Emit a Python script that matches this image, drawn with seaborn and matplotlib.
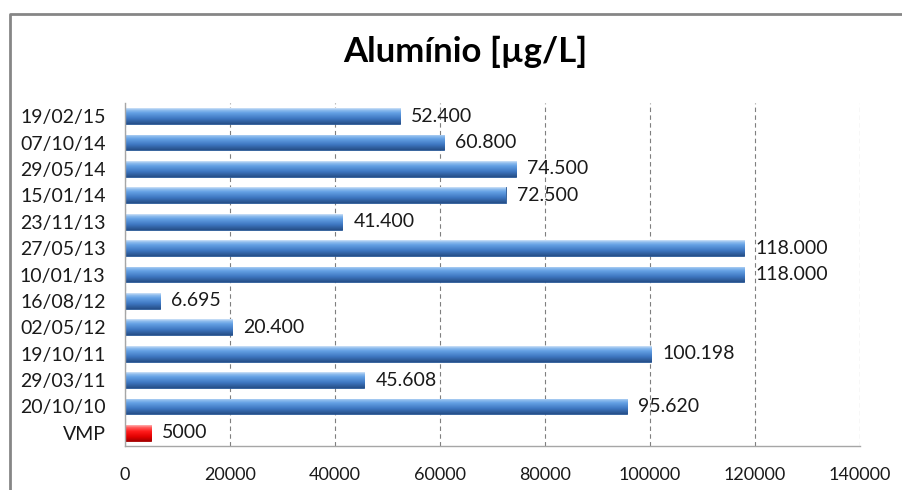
import matplotlib
matplotlib.use("Agg")
import numpy as np
import pandas as pd
import matplotlib.pyplot as plt
import seaborn as sns
from matplotlib.colors import LinearSegmentedColormap
from matplotlib.lines import Line2D

# data (top to bottom)
dates = ["19/02/15", "07/10/14", "29/05/14", "15/01/14", "23/11/13", "27/05/13",
         "10/01/13", "16/08/12", "02/05/12", "19/10/11", "29/03/11", "20/10/10", "VMP"]
values = [52400, 60800, 74500, 72500, 41400, 118000,
          118000, 6695, 20400, 100198, 45608, 95620, 5000]
value_labels = ["52.400", "60.800", "74.500", "72.500", "41.400", "118.000",
                "118.000", "6.695", "20.400", "100.198", "45.608", "95.620", "5000"]
x_ticks = [0, 20000, 40000, 60000, 80000, 100000, 120000, 140000]

blue_cmap = LinearSegmentedColormap.from_list(
    "blue_bar", [(0.0, "#cfe2f8"), (0.12, "#8fbdee"), (0.3, "#64a0e4"),
                 (0.65, "#3f78c2"), (1.0, "#264f88")])
red_cmap = LinearSegmentedColormap.from_list(
    "red_bar", [(0.0, "#ffb0b0"), (0.15, "#ff5a5a"), (0.4, "#ff1a1a"),
                (0.75, "#e00000"), (1.0, "#a80000")])


def main():
    df = pd.DataFrame({"data": dates, "valor": values})

    sns.set_style("white")
    plt.rcParams["font.family"] = ["Lato", "DejaVu Sans"]

    fig = plt.figure(figsize=(9.03, 4.9), dpi=100)
    ax = fig.add_axes([125 / 903, 1 - 446 / 490, 735 / 903, 343 / 490])

    palette = ["#4a84c8"] * (len(dates) - 1) + ["#ee1111"]
    sns.barplot(data=df, x="valor", y="data", hue="data", palette=palette,
                legend=False, orient="h", width=0.6, saturation=1,
                edgecolor="#2a5794", linewidth=0.6, ax=ax)

    # gradient fill clipped to each bar to mimic the cylinder look
    grad = np.linspace(0, 1, 64).reshape(-1, 1)
    for patch in ax.patches:
        x0, y0 = patch.get_x(), patch.get_y()
        w, h = patch.get_width(), patch.get_height()
        cmap = red_cmap if w == values[-1] else blue_cmap
        if w == values[-1]:
            patch.set_edgecolor("#a00000")
        im = ax.imshow(grad, cmap=cmap, aspect="auto", origin="upper",
                       extent=(x0, x0 + w, y0 + h, y0), zorder=patch.get_zorder() + 0.1)
        im.set_clip_path(patch)

    for container, lab in zip(ax.containers, value_labels):
        ax.bar_label(container, labels=[lab], padding=8, fontsize=14, color="#1a1a1a")

    ax.set_xlim(0, 140000)
    ax.set_ylim(len(dates) - 0.5, -0.5)
    ax.set_xticks(x_ticks)
    ax.set_xticklabels([str(t) for t in x_ticks])
    ax.set_xlabel("")
    ax.set_ylabel("")
    ax.xaxis.grid(True, linestyle=(0, (4, 3)), color="#7f7f7f", linewidth=0.8)
    ax.set_axisbelow(True)
    ax.tick_params(axis="x", length=0, pad=15, labelsize=13, labelcolor="#1a1a1a")
    ax.tick_params(axis="y", length=0, pad=14, labelsize=14, labelcolor="#1a1a1a")
    for side in ["top", "right"]:
        ax.spines[side].set_visible(False)
    for side in ["left", "bottom"]:
        ax.spines[side].set_color("#a6a6a6")
        ax.spines[side].set_linewidth(1.0)

    fig.text(465 / 903, 1 - 52 / 490, "Alumínio [µg/L]", ha="center", va="center",
             fontsize=25, fontweight="bold", color="black")

    # outer chart frame (left and top edges visible)
    fig.add_artist(Line2D([10 / 903, 10 / 903, 1.0], [0.0, 1 - 14 / 490, 1 - 14 / 490],
                          transform=fig.transFigure, color="#868686", linewidth=2))

    fig.savefig("out.png", dpi=100)


if __name__ == "__main__":
    main()
